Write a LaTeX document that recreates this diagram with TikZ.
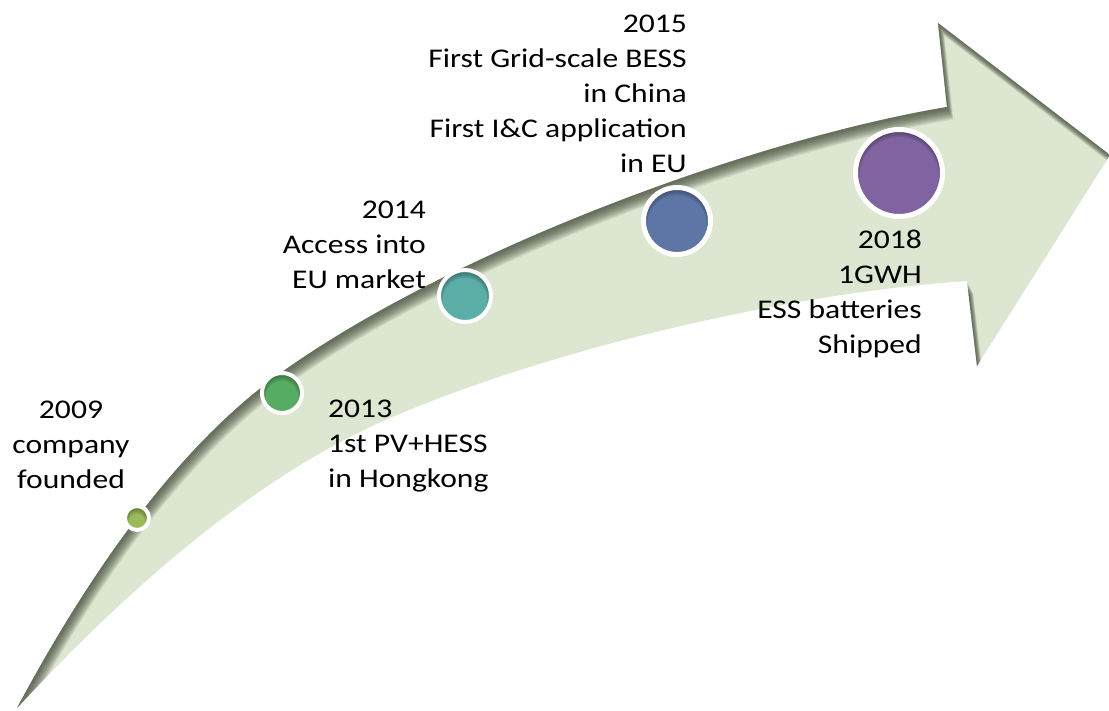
\documentclass[tikz,border=0pt]{standalone}
\usepackage{fontspec}
\setmainfont{Carlito}[FakeStretch=1.17]
\usetikzlibrary{calc}

\definecolor{arrowfill}{RGB}{221,230,208}
\definecolor{arrowshade}{RGB}{60,68,52}
\definecolor{dotA}{RGB}{155,187,89}
\definecolor{dotB}{RGB}{86,172,98}
\definecolor{dotC}{RGB}{90,174,165}
\definecolor{dotD}{RGB}{93,118,166}
\definecolor{dotE}{RGB}{128,99,161}

\tikzset{
  arrowshape/.style={insert path={
    (17,708) .. controls (75,600) and (165,455) .. (282,372)
             .. controls (452,251) and (750,140) .. (947,107)
    -- (938,23) -- (1110,155) -- (977,366) -- (967,281)
             .. controls (800,292) and (560,345) .. (390,418)
             .. controls (230,487) and (90,630) .. (17,708)
    -- cycle}},
  dot/.style={circle, draw=white, inner sep=0pt,
    path picture={
      \foreach \d in {1,...,4}
        \draw[black, opacity=0.1, line width=1.8*\d pt]
          let \p1=(path picture bounding box.north), \p2=(path picture bounding box.center)
          in ($(\p2)+(0pt,-\d pt)$) circle [radius=\y1-\y2];
    }},
  note/.style={inner sep=0pt, text=black, font=\fontsize{27}{35}\selectfont}
}

\begin{document}
\begin{tikzpicture}[x=1pt,y=-1pt]
  \useasboundingbox (0,0) rectangle (1109,710);

  % curved arrow
  \fill[arrowfill, arrowshape];
  \begin{scope}
    \clip[arrowshape];
    \foreach \d in {2,...,14}{
      \begin{scope}[shift={(0.45*\d pt,-0.9*\d pt)}]
        \fill[arrowshade, opacity=0.09, even odd rule]
          (-200,-200) rectangle (1300,900) [arrowshape];
      \end{scope}
    }
  \end{scope}

  % milestones
  \node[dot, fill=dotA, line width=4pt, minimum size=24pt] (c2009) at (137,518) {};
  \node[dot, fill=dotB, line width=4pt, minimum size=40pt] (c2013) at (282,393) {};
  \node[dot, fill=dotC, line width=4pt, minimum size=52pt] (c2014) at (465,296) {};
  \node[dot, fill=dotD, line width=5pt, minimum size=67pt] (c2015) at (677,221) {};
  \node[dot, fill=dotE, line width=5pt, minimum size=87pt] (c2018) at (899,173) {};

  % labels
  \node[note, align=center, anchor=north] (t2009) at (71,401) {2009\\company\\founded};
  \node[note, align=left, anchor=north west] (t2013) at (328,400) {2013\\1st PV+HESS\\in Hongkong};
  \node[note, align=right, anchor=north east] (t2014) at (426,201) {2014\\Access into\\EU market};
  \node[note, align=right, anchor=north east] (t2015) at (687,15)
    {2015\\First Grid-scale BESS\\in China\\First I\&C application\\in EU};
  \node[note, align=right, anchor=north east] (t2018) at (922,230)
    {2018\\1GWH\\ESS batteries\\Shipped};
\end{tikzpicture}
\end{document}
